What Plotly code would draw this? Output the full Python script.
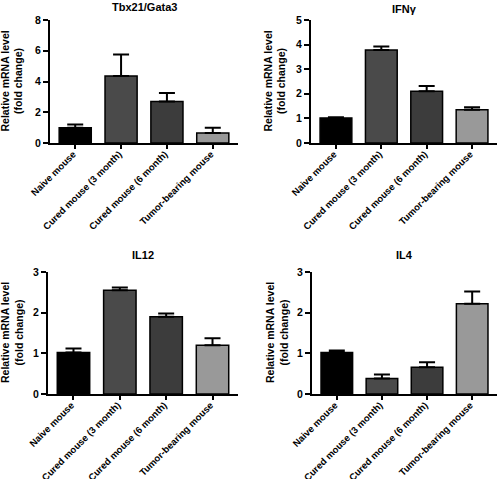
import plotly.graph_objects as go

categories = ["Naive mouse", "Cured mouse (3 month)", "Cured mouse (6 month)", "Tumor-bearing mouse"]
colors = ["#000000", "#4a4a4a", "#3c3c3c", "#999999"]

titles = ["Tbx21/Gata3", "IFNγ", "IL12", "IL4"]
tbx21_mean = [1.0, 4.35, 2.7, 0.65]
tbx21_err = [0.2, 1.4, 0.55, 0.35]
ifng_mean = [1.02, 3.78, 2.1, 1.35]
ifng_err = [0.03, 0.14, 0.22, 0.1]
il12_mean = [1.02, 2.55, 1.9, 1.2]
il12_err = [0.1, 0.07, 0.08, 0.17]
il4_mean = [1.02, 0.38, 0.66, 2.22]
il4_err = [0.05, 0.1, 0.12, 0.3]

y_ranges = [[0, 8], [0, 5], [0, 3], [0, 3]]
y_dticks = [2, 1, 1, 1]

means = [tbx21_mean, ifng_mean, il12_mean, il4_mean]
errs = [tbx21_err, ifng_err, il12_err, il4_err]

W, H = 500, 479
def px(x):
    return x / W
def py(y):
    return 1 - y / H

# panel geometry in pixels: (x0, x1, ytop, ybottom)
geo = [
    (50, 238, 20, 143),
    (311, 497, 20, 143),
    (48, 238, 272, 394),
    (312, 497, 272, 394),
]
title_y = [7, 9, 255, 255]
ytitle_x = [12, 275, 12, 277]

fig = go.Figure()
font_family = "Arial, Liberation Sans, sans-serif"

layout = dict(
    width=W, height=H, margin=dict(l=0, r=0, t=0, b=0, autoexpand=False),
    paper_bgcolor="white", plot_bgcolor="white", showlegend=False,
    font=dict(family=font_family, color="black"),
    bargap=0.3,
)
annotations = []
for i in range(4):
    xa = "x" if i == 0 else f"x{i+1}"
    ya = "y" if i == 0 else f"y{i+1}"
    fig.add_trace(go.Bar(
        x=categories, y=means[i],
        marker=dict(color=colors, line=dict(color="black", width=1.5)),
        width=0.7,
        error_y=dict(type="data", array=errs[i], arrayminus=[0] * 4, symmetric=False,
                     color="black", thickness=2, width=8),
        xaxis=xa, yaxis=ya,
    ))
    x0, x1, yt, yb = geo[i]
    key = "" if i == 0 else str(i + 1)
    layout["xaxis" + key] = dict(
        domain=[px(x0), px(x1)], anchor=ya, range=[-0.55, 3.55], automargin=False,
        showline=True, linewidth=2, linecolor="black",
        ticks="outside", ticklen=4, tickwidth=1.5, tickcolor="black",
        tickangle=-45, showgrid=False, zeroline=False,
        ticklabelshift=-2, ticklabelstandoff=-4,
        tickfont=dict(size=9.5, family=font_family, color="black", weight="bold"),
    )
    layout["yaxis" + key] = dict(
        domain=[py(yb), py(yt)], anchor=xa, range=y_ranges[i], dtick=y_dticks[i],
        automargin=False,
        showline=True, linewidth=2, linecolor="black",
        ticks="outside", ticklen=5, tickwidth=1.5, tickcolor="black",
        showgrid=False, zeroline=False,
        tickfont=dict(size=10.5, family=font_family, color="black", weight="bold"),
    )
    annotations.append(dict(
        text=titles[i], xref="paper", yref="paper",
        x=px((x0 + x1) / 2), y=py(title_y[i]), xanchor="center", yanchor="middle",
        showarrow=False, font=dict(size=11, family=font_family, color="black", weight="bold"),
    ))
    annotations.append(dict(
        text="Relative mRNA level<br>(fold change)", xref="paper", yref="paper",
        x=px(ytitle_x[i]), y=py((yt + yb) / 2), xanchor="center", yanchor="middle",
        textangle=-90, showarrow=False,
        font=dict(size=10.5, family=font_family, color="black", weight="bold"),
    ))
layout["annotations"] = annotations
fig.update_layout(**layout)
fig.write_html("out.html", config={"displayModeBar": False},
               post_script="document.body.style.margin='0';document.body.style.overflow='hidden';")
